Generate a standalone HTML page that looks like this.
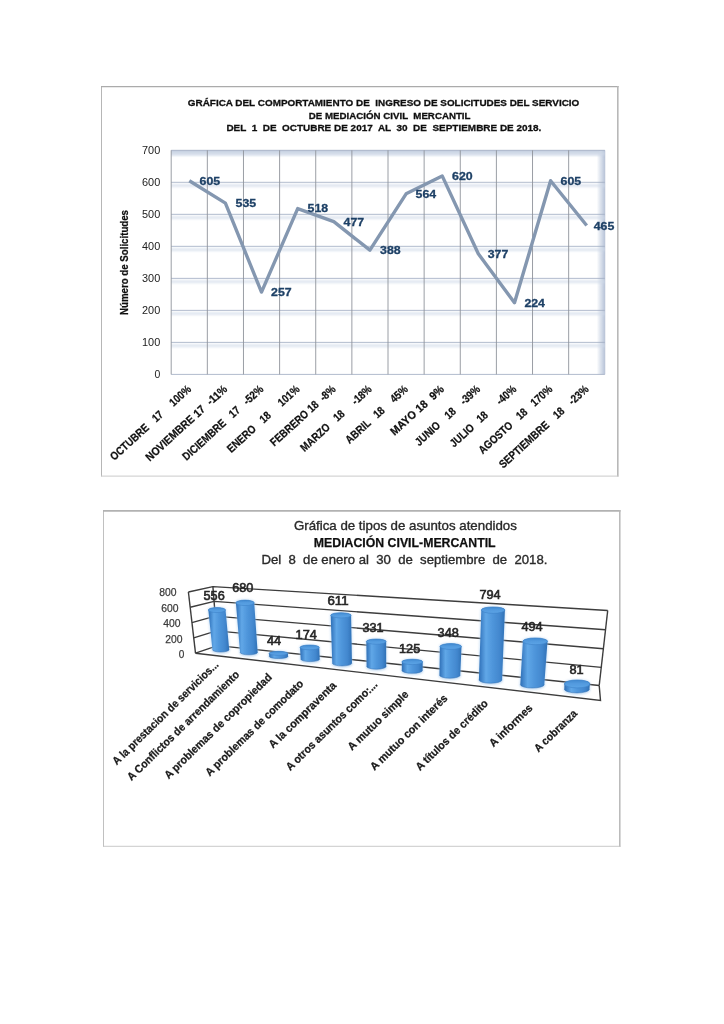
<!DOCTYPE html>
<html lang="es"><head><meta charset="utf-8"><title>Gráficas Mediación Civil Mercantil</title>
<style>html,body{margin:0;padding:0;background:#fff}svg{display:block}text{font-family:"Liberation Sans", sans-serif;white-space:pre}</style></head><body>
<svg width="724" height="1024" viewBox="0 0 724 1024">
<defs>
<linearGradient id="cyl" x1="0" x2="1" y1="0" y2="0">
<stop offset="0" stop-color="#2f70b5"/><stop offset="0.09" stop-color="#3f82c8"/><stop offset="0.27" stop-color="#60a7e7"/><stop offset="0.5" stop-color="#5097dc"/><stop offset="0.8" stop-color="#4287ce"/><stop offset="1" stop-color="#3071b6"/>
</linearGradient>
<linearGradient id="ctop" x1="0" x2="0" y1="0" y2="1"><stop offset="0" stop-color="#4088cf"/><stop offset="0.45" stop-color="#529ade"/><stop offset="1" stop-color="#5da4e6"/></linearGradient>
<linearGradient id="ptop" x1="0" x2="0" y1="0" y2="1"><stop offset="0" stop-color="#bcc8dc"/><stop offset="1" stop-color="#bcc8dc" stop-opacity="0"/></linearGradient>
<linearGradient id="pright" x1="1" x2="0" y1="0" y2="0"><stop offset="0" stop-color="#b6c2d8"/><stop offset="0.5" stop-color="#cdd6e5" stop-opacity="0.75"/><stop offset="1" stop-color="#c9d3e3" stop-opacity="0"/></linearGradient>
<filter id="soft" x="0" y="0" width="100%" height="100%" filterUnits="userSpaceOnUse"><feGaussianBlur stdDeviation="0.45"/></filter>
<filter id="b1" x="-5%" y="-300%" width="110%" height="700%"><feGaussianBlur stdDeviation="0 1.1"/></filter>
<filter id="b2" x="-20%" y="-20%" width="140%" height="140%"><feGaussianBlur stdDeviation="1.2"/></filter>
</defs>
<rect width="724" height="1024" fill="#fff"/>
<g filter="url(#soft)">
<g id="chart1">
<path d="M101.5,86 V476.4" stroke="#b6b6b6" stroke-width="1" fill="none"/><path d="M101,86.6 H618.6" stroke="#ababab" stroke-width="1.3" fill="none"/><path d="M617.8,86 V476.6" stroke="#b8b8b8" stroke-width="1.6" fill="none"/><path d="M101,476.1 H618.6" stroke="#cacaca" stroke-width="1" fill="none"/>
<rect x="171.2" y="150.3" width="433.6" height="224.1" fill="#fff"/>
<rect x="171.2" y="150.3" width="433.6" height="7" fill="url(#ptop)"/>
<rect x="596.8" y="150.3" width="8" height="224.1" fill="url(#pright)"/>
<line x1="604.8" x2="604.8" y1="150.3" y2="374.4" stroke="#b4bfd2" stroke-width="0.8"/>
<rect x="171.2" y="152.10" width="433.6" height="3" fill="#cfd9e8" filter="url(#b1)" opacity="0.65"/>
<line x1="171.2" x2="604.8" y1="150.30" y2="150.30" stroke="#a3afc4" stroke-width="0.85"/>
<rect x="171.2" y="184.11" width="433.6" height="3" fill="#cfd9e8" filter="url(#b1)" opacity="0.65"/>
<line x1="171.2" x2="604.8" y1="182.31" y2="182.31" stroke="#a3afc4" stroke-width="0.85"/>
<rect x="171.2" y="216.13" width="433.6" height="3" fill="#cfd9e8" filter="url(#b1)" opacity="0.65"/>
<line x1="171.2" x2="604.8" y1="214.33" y2="214.33" stroke="#a3afc4" stroke-width="0.85"/>
<rect x="171.2" y="248.14" width="433.6" height="3" fill="#cfd9e8" filter="url(#b1)" opacity="0.65"/>
<line x1="171.2" x2="604.8" y1="246.34" y2="246.34" stroke="#a3afc4" stroke-width="0.85"/>
<rect x="171.2" y="280.16" width="433.6" height="3" fill="#cfd9e8" filter="url(#b1)" opacity="0.65"/>
<line x1="171.2" x2="604.8" y1="278.36" y2="278.36" stroke="#a3afc4" stroke-width="0.85"/>
<rect x="171.2" y="312.17" width="433.6" height="3" fill="#cfd9e8" filter="url(#b1)" opacity="0.65"/>
<line x1="171.2" x2="604.8" y1="310.37" y2="310.37" stroke="#a3afc4" stroke-width="0.85"/>
<rect x="171.2" y="344.19" width="433.6" height="3" fill="#cfd9e8" filter="url(#b1)" opacity="0.65"/>
<line x1="171.2" x2="604.8" y1="342.39" y2="342.39" stroke="#a3afc4" stroke-width="0.85"/>
<line x1="171.2" x2="604.8" y1="374.40" y2="374.40" stroke="#a3afc4" stroke-width="0.85"/>
<line x1="171.20" x2="171.20" y1="150.3" y2="374.4" stroke="#8f939b" stroke-width="0.9"/>
<line x1="207.33" x2="207.33" y1="150.3" y2="374.4" stroke="#8f939b" stroke-width="0.9"/>
<line x1="243.47" x2="243.47" y1="150.3" y2="374.4" stroke="#8f939b" stroke-width="0.9"/>
<line x1="279.60" x2="279.60" y1="150.3" y2="374.4" stroke="#8f939b" stroke-width="0.9"/>
<line x1="315.73" x2="315.73" y1="150.3" y2="374.4" stroke="#8f939b" stroke-width="0.9"/>
<line x1="351.87" x2="351.87" y1="150.3" y2="374.4" stroke="#8f939b" stroke-width="0.9"/>
<line x1="388.00" x2="388.00" y1="150.3" y2="374.4" stroke="#8f939b" stroke-width="0.9"/>
<line x1="424.13" x2="424.13" y1="150.3" y2="374.4" stroke="#8f939b" stroke-width="0.9"/>
<line x1="460.27" x2="460.27" y1="150.3" y2="374.4" stroke="#8f939b" stroke-width="0.9"/>
<line x1="496.40" x2="496.40" y1="150.3" y2="374.4" stroke="#8f939b" stroke-width="0.9"/>
<line x1="532.53" x2="532.53" y1="150.3" y2="374.4" stroke="#8f939b" stroke-width="0.9"/>
<line x1="568.67" x2="568.67" y1="150.3" y2="374.4" stroke="#8f939b" stroke-width="0.9"/>
<text x="160.2" y="153.90" font-size="10" text-anchor="end" fill="#222" textLength="18.2" lengthAdjust="spacingAndGlyphs">700</text>
<text x="160.2" y="185.91" font-size="10" text-anchor="end" fill="#222" textLength="18.2" lengthAdjust="spacingAndGlyphs">600</text>
<text x="160.2" y="217.93" font-size="10" text-anchor="end" fill="#222" textLength="18.2" lengthAdjust="spacingAndGlyphs">500</text>
<text x="160.2" y="249.94" font-size="10" text-anchor="end" fill="#222" textLength="18.2" lengthAdjust="spacingAndGlyphs">400</text>
<text x="160.2" y="281.96" font-size="10" text-anchor="end" fill="#222" textLength="18.2" lengthAdjust="spacingAndGlyphs">300</text>
<text x="160.2" y="313.97" font-size="10" text-anchor="end" fill="#222" textLength="18.2" lengthAdjust="spacingAndGlyphs">200</text>
<text x="160.2" y="345.99" font-size="10" text-anchor="end" fill="#222" textLength="18.2" lengthAdjust="spacingAndGlyphs">100</text>
<text x="160.2" y="378.00" font-size="10" text-anchor="end" fill="#222" textLength="5.8" lengthAdjust="spacingAndGlyphs">0</text>
<text transform="translate(127.6,262.5) rotate(-90)" font-size="10" font-weight="bold" text-anchor="middle" fill="#111" stroke="#111" stroke-width="0.25" textLength="105" lengthAdjust="spacingAndGlyphs">Número de Solicitudes</text>
<text x="187.8" y="106" font-size="9.9" font-weight="bold" fill="#111" stroke="#111" stroke-width="0.3" textLength="391.5" lengthAdjust="spacingAndGlyphs">GRÁFICA DEL COMPORTAMIENTO DE  INGRESO DE SOLICITUDES DEL SERVICIO</text>
<text x="308.8" y="118.7" font-size="9.9" font-weight="bold" fill="#111" stroke="#111" stroke-width="0.3" textLength="161.7" lengthAdjust="spacingAndGlyphs">DE MEDIACIÓN CIVIL  MERCANTIL</text>
<text x="226.4" y="131.3" font-size="9.9" font-weight="bold" fill="#111" stroke="#111" stroke-width="0.3" textLength="315" lengthAdjust="spacingAndGlyphs">DEL  1  DE  OCTUBRE DE 2017  AL  30  DE  SEPTIEMBRE DE 2018.</text>
<polyline fill="none" stroke="#8497b0" stroke-width="3.4" stroke-linejoin="round" stroke-linecap="butt" points="189.3,180.7 225.4,203.1 261.5,292.1 297.7,208.6 333.8,221.7 369.9,250.2 406.1,193.8 442.2,175.9 478.3,253.7 514.5,302.7 550.6,180.7 586.7,225.5"/>
<text x="199.6" y="185.2" font-size="10.8" font-weight="bold" fill="#1f4166" stroke="#1f4166" stroke-width="0.3" textLength="20.6" lengthAdjust="spacingAndGlyphs">605</text>
<text x="235.6" y="207.2" font-size="10.8" font-weight="bold" fill="#1f4166" stroke="#1f4166" stroke-width="0.3" textLength="20.6" lengthAdjust="spacingAndGlyphs">535</text>
<text x="271.1" y="296.2" font-size="10.8" font-weight="bold" fill="#1f4166" stroke="#1f4166" stroke-width="0.3" textLength="20.6" lengthAdjust="spacingAndGlyphs">257</text>
<text x="307.6" y="212.2" font-size="10.8" font-weight="bold" fill="#1f4166" stroke="#1f4166" stroke-width="0.3" textLength="20.6" lengthAdjust="spacingAndGlyphs">518</text>
<text x="343.6" y="225.7" font-size="10.8" font-weight="bold" fill="#1f4166" stroke="#1f4166" stroke-width="0.3" textLength="20.6" lengthAdjust="spacingAndGlyphs">477</text>
<text x="380.1" y="254.2" font-size="10.8" font-weight="bold" fill="#1f4166" stroke="#1f4166" stroke-width="0.3" textLength="20.6" lengthAdjust="spacingAndGlyphs">388</text>
<text x="415.6" y="198.2" font-size="10.8" font-weight="bold" fill="#1f4166" stroke="#1f4166" stroke-width="0.3" textLength="20.6" lengthAdjust="spacingAndGlyphs">564</text>
<text x="452.1" y="180.2" font-size="10.8" font-weight="bold" fill="#1f4166" stroke="#1f4166" stroke-width="0.3" textLength="20.6" lengthAdjust="spacingAndGlyphs">620</text>
<text x="487.7" y="258.2" font-size="10.8" font-weight="bold" fill="#1f4166" stroke="#1f4166" stroke-width="0.3" textLength="20.6" lengthAdjust="spacingAndGlyphs">377</text>
<text x="524.4" y="307.2" font-size="10.8" font-weight="bold" fill="#1f4166" stroke="#1f4166" stroke-width="0.3" textLength="20.6" lengthAdjust="spacingAndGlyphs">224</text>
<text x="560.6" y="185.2" font-size="10.8" font-weight="bold" fill="#1f4166" stroke="#1f4166" stroke-width="0.3" textLength="20.6" lengthAdjust="spacingAndGlyphs">605</text>
<text x="593.7" y="229.7" font-size="10.8" font-weight="bold" fill="#1f4166" stroke="#1f4166" stroke-width="0.3" textLength="20.6" lengthAdjust="spacingAndGlyphs">465</text>
<text transform="translate(191.9,390.2) rotate(-42.4)" font-size="11.3" font-weight="bold" text-anchor="end" fill="#111" stroke="#111" stroke-width="0.25" style="word-spacing:1.82px" textLength="105" lengthAdjust="spacingAndGlyphs">OCTUBRE  17   100%</text>
<text transform="translate(228.0,390.2) rotate(-42.4)" font-size="11.3" font-weight="bold" text-anchor="end" fill="#111" stroke="#111" stroke-width="0.25" style="word-spacing:0.50px" textLength="106" lengthAdjust="spacingAndGlyphs">NOVIEMBRE 17  -11%</text>
<text transform="translate(264.1,390.2) rotate(-42.4)" font-size="11.3" font-weight="bold" text-anchor="end" fill="#111" stroke="#111" stroke-width="0.25" style="word-spacing:1.79px" textLength="105" lengthAdjust="spacingAndGlyphs">DICIEMBRE  17  -52%</text>
<text transform="translate(300.3,390.2) rotate(-42.4)" font-size="11.3" font-weight="bold" text-anchor="end" fill="#111" stroke="#111" stroke-width="0.25" style="word-spacing:2.26px" textLength="93.5" lengthAdjust="spacingAndGlyphs">ENERO  18   101%</text>
<text transform="translate(336.4,390.2) rotate(-42.4)" font-size="11.3" font-weight="bold" text-anchor="end" fill="#111" stroke="#111" stroke-width="0.25" style="word-spacing:0.13px" textLength="84" lengthAdjust="spacingAndGlyphs">FEBRERO 18  -8%</text>
<text transform="translate(372.5,390.2) rotate(-42.4)" font-size="11.3" font-weight="bold" text-anchor="end" fill="#111" stroke="#111" stroke-width="0.25" style="word-spacing:2.19px" textLength="92" lengthAdjust="spacingAndGlyphs">MARZO  18   -18%</text>
<text transform="translate(408.7,390.2) rotate(-42.4)" font-size="11.3" font-weight="bold" text-anchor="end" fill="#111" stroke="#111" stroke-width="0.25" style="word-spacing:1.56px" textLength="80" lengthAdjust="spacingAndGlyphs">ABRIL  18   45%</text>
<text transform="translate(444.8,390.2) rotate(-42.4)" font-size="11.3" font-weight="bold" text-anchor="end" fill="#111" stroke="#111" stroke-width="0.25" style="word-spacing:0.50px" textLength="68" lengthAdjust="spacingAndGlyphs">MAYO 18  9%</text>
<text transform="translate(480.9,390.2) rotate(-42.4)" font-size="11.3" font-weight="bold" text-anchor="end" fill="#111" stroke="#111" stroke-width="0.25" style="word-spacing:2.75px" textLength="83.5" lengthAdjust="spacingAndGlyphs">JUNIO  18  -39%</text>
<text transform="translate(517.1,390.2) rotate(-42.4)" font-size="11.3" font-weight="bold" text-anchor="end" fill="#111" stroke="#111" stroke-width="0.25" style="word-spacing:1.39px" textLength="85.5" lengthAdjust="spacingAndGlyphs">JULIO  18    -40%</text>
<text transform="translate(553.2,390.2) rotate(-42.4)" font-size="11.3" font-weight="bold" text-anchor="end" fill="#111" stroke="#111" stroke-width="0.25" style="word-spacing:2.05px" textLength="95.5" lengthAdjust="spacingAndGlyphs">AGOSTO  18  170%</text>
<text transform="translate(589.3,390.2) rotate(-42.4)" font-size="11.3" font-weight="bold" text-anchor="end" fill="#111" stroke="#111" stroke-width="0.25" style="word-spacing:2.62px" textLength="116.5" lengthAdjust="spacingAndGlyphs">SEPTIEMBRE  18  -23%</text>
</g>
<g id="chart2">
<path d="M103.5,510 V846.7" stroke="#c0c0c0" stroke-width="1" fill="none"/><path d="M103,510.9 H620.5" stroke="#b2b2b2" stroke-width="1.6" fill="none"/><path d="M619.8,510 V846.8" stroke="#b8b8b8" stroke-width="1.5" fill="none"/><path d="M103,846.3 H620.5" stroke="#c4c4c4" stroke-width="0.9" fill="none"/>
<text x="293.9" y="529.9" font-size="12.6" fill="#2a2a2a" stroke="#2a2a2a" stroke-width="0.35" textLength="223" lengthAdjust="spacingAndGlyphs">Gráfica de tipos de asuntos atendidos</text>
<text x="313.8" y="547.1" font-size="12.6" font-weight="bold" fill="#111" stroke="#111" stroke-width="0.25" textLength="181.8" lengthAdjust="spacingAndGlyphs">MEDIACIÓN CIVIL-MERCANTIL</text>
<text x="261.4" y="564.4" font-size="12.6" fill="#2a2a2a" stroke="#2a2a2a" stroke-width="0.35" textLength="286" lengthAdjust="spacingAndGlyphs">Del  8  de enero al  30  de  septiembre  de  2018.</text>
<polyline fill="none" stroke="#3c3c3c" stroke-width="1.4" stroke-linejoin="round" points="188.4,592.0 212.9,586.6 607.7,610.5"/>
<polyline fill="none" stroke="#3c3c3c" stroke-width="1.4" stroke-linejoin="round" points="190.2,607.3 214.1,601.4 605.6,629.8"/>
<polyline fill="none" stroke="#3c3c3c" stroke-width="1.4" stroke-linejoin="round" points="191.9,622.6 215.2,616.1 603.5,648.8"/>
<polyline fill="none" stroke="#3c3c3c" stroke-width="1.4" stroke-linejoin="round" points="193.7,637.9 216.4,630.9 601.4,667.4"/>
<polyline fill="none" stroke="#3c3c3c" stroke-width="1.4" stroke-linejoin="round" points="195.5,653.2 217.6,645.6 599.2,685.5"/>
<line x1="188.4" y1="592" x2="195.5" y2="653.2" stroke="#3c3c3c" stroke-width="1.4"/>
<line x1="212.9" y1="586.6" x2="217.6" y2="645.6" stroke="#3c3c3c" stroke-width="1.4"/>
<line x1="607.7" y1="610.5" x2="599.2" y2="685.5" stroke="#3c3c3c" stroke-width="1.4"/>
<polyline fill="none" stroke="#3c3c3c" stroke-width="1.4" points="195.5,653.2 600.5,700.4 599.2,685.5"/>
<text x="176.60" y="596.15" font-size="11.4" text-anchor="end" fill="#3a3a3a" stroke="#3a3a3a" stroke-width="0.25" textLength="17.3" lengthAdjust="spacingAndGlyphs">800</text>
<text x="178.55" y="611.60" font-size="11.4" text-anchor="end" fill="#3a3a3a" stroke="#3a3a3a" stroke-width="0.25" textLength="17.3" lengthAdjust="spacingAndGlyphs">600</text>
<text x="180.50" y="627.05" font-size="11.4" text-anchor="end" fill="#3a3a3a" stroke="#3a3a3a" stroke-width="0.25" textLength="17.3" lengthAdjust="spacingAndGlyphs">400</text>
<text x="182.45" y="642.50" font-size="11.4" text-anchor="end" fill="#3a3a3a" stroke="#3a3a3a" stroke-width="0.25" textLength="17.3" lengthAdjust="spacingAndGlyphs">200</text>
<text x="184.40" y="657.95" font-size="11.4" text-anchor="end" fill="#3a3a3a" stroke="#3a3a3a" stroke-width="0.25" textLength="5.6" lengthAdjust="spacingAndGlyphs">0</text>
<ellipse cx="220.8" cy="650.8" rx="8.9" ry="3.2" fill="#bcd6ef" filter="url(#b2)" opacity="0.55"/>
<path d="M208.35,610.00 L212.40,649.60 A8.40,2.40 0 0 0 229.20,649.60 L225.55,610.00 A8.60,2.50 0 0 0 208.35,610.00 Z" fill="#a9cdf0" stroke="#a9cdf0" stroke-width="1.5" filter="url(#b2)" opacity="0.55"/>
<path d="M208.35,610.00 L212.40,649.60 A8.40,2.40 0 0 0 229.20,649.60 L225.55,610.00 A8.60,2.50 0 0 0 208.35,610.00 Z" fill="url(#cyl)"/>
<path d="M212.40,649.60 A8.40,2.40 0 0 0 229.20,649.60" fill="none" stroke="#2f6db0" stroke-width="0.9" opacity="0.55"/>
<ellipse cx="216.95" cy="610" rx="8.6" ry="2.5" fill="url(#ctop)" stroke="#3d81c7" stroke-width="0.6"/>
<ellipse cx="248.85" cy="653.4" rx="9.3" ry="3.4" fill="#bcd6ef" filter="url(#b2)" opacity="0.55"/>
<path d="M235.90,602.80 L240.05,652.20 A8.80,2.60 0 0 0 257.65,652.20 L254.20,602.80 A9.15,2.70 0 0 0 235.90,602.80 Z" fill="#a9cdf0" stroke="#a9cdf0" stroke-width="1.5" filter="url(#b2)" opacity="0.55"/>
<path d="M235.90,602.80 L240.05,652.20 A8.80,2.60 0 0 0 257.65,652.20 L254.20,602.80 A9.15,2.70 0 0 0 235.90,602.80 Z" fill="url(#cyl)"/>
<path d="M240.05,652.20 A8.80,2.60 0 0 0 257.65,652.20" fill="none" stroke="#2f6db0" stroke-width="0.9" opacity="0.55"/>
<ellipse cx="245.05" cy="602.8" rx="9.15" ry="2.7" fill="url(#ctop)" stroke="#3d81c7" stroke-width="0.6"/>
<ellipse cx="278.6" cy="657.6" rx="9.9" ry="2.9" fill="#bcd6ef" filter="url(#b2)" opacity="0.55"/>
<path d="M269.00,653.30 L269.20,656.40 A9.40,2.10 0 0 0 288.00,656.40 L287.90,653.30 A9.45,2.00 0 0 0 269.00,653.30 Z" fill="#a9cdf0" stroke="#a9cdf0" stroke-width="1.5" filter="url(#b2)" opacity="0.55"/>
<path d="M269.00,653.30 L269.20,656.40 A9.40,2.10 0 0 0 288.00,656.40 L287.90,653.30 A9.45,2.00 0 0 0 269.00,653.30 Z" fill="url(#cyl)"/>
<path d="M269.20,656.40 A9.40,2.10 0 0 0 288.00,656.40" fill="none" stroke="#2f6db0" stroke-width="0.9" opacity="0.55"/>
<ellipse cx="278.45" cy="653.3" rx="9.45" ry="2" fill="url(#ctop)" stroke="#3d81c7" stroke-width="0.6"/>
<ellipse cx="310.2" cy="660.2" rx="10" ry="3.4" fill="#bcd6ef" filter="url(#b2)" opacity="0.55"/>
<path d="M300.05,647.40 L300.70,659.00 A9.50,2.60 0 0 0 319.70,659.00 L319.25,647.40 A9.60,2.40 0 0 0 300.05,647.40 Z" fill="#a9cdf0" stroke="#a9cdf0" stroke-width="1.5" filter="url(#b2)" opacity="0.55"/>
<path d="M300.05,647.40 L300.70,659.00 A9.50,2.60 0 0 0 319.70,659.00 L319.25,647.40 A9.60,2.40 0 0 0 300.05,647.40 Z" fill="url(#cyl)"/>
<path d="M300.70,659.00 A9.50,2.60 0 0 0 319.70,659.00" fill="none" stroke="#2f6db0" stroke-width="0.9" opacity="0.55"/>
<ellipse cx="309.65" cy="647.4" rx="9.6" ry="2.4" fill="url(#ctop)" stroke="#3d81c7" stroke-width="0.6"/>
<ellipse cx="342.1" cy="664.3" rx="10.35" ry="3.6" fill="#bcd6ef" filter="url(#b2)" opacity="0.55"/>
<path d="M330.70,615.30 L332.25,663.10 A9.85,2.80 0 0 0 351.95,663.10 L351.10,615.30 A10.20,2.60 0 0 0 330.70,615.30 Z" fill="#a9cdf0" stroke="#a9cdf0" stroke-width="1.5" filter="url(#b2)" opacity="0.55"/>
<path d="M330.70,615.30 L332.25,663.10 A9.85,2.80 0 0 0 351.95,663.10 L351.10,615.30 A10.20,2.60 0 0 0 330.70,615.30 Z" fill="url(#cyl)"/>
<path d="M332.25,663.10 A9.85,2.80 0 0 0 351.95,663.10" fill="none" stroke="#2f6db0" stroke-width="0.9" opacity="0.55"/>
<ellipse cx="340.9" cy="615.3" rx="10.2" ry="2.6" fill="url(#ctop)" stroke="#3d81c7" stroke-width="0.6"/>
<ellipse cx="376.4" cy="667.4" rx="10.3" ry="3.8" fill="#bcd6ef" filter="url(#b2)" opacity="0.55"/>
<path d="M366.35,641.60 L366.60,666.20 A9.80,3.00 0 0 0 386.20,666.20 L386.15,641.60 A9.90,2.60 0 0 0 366.35,641.60 Z" fill="#a9cdf0" stroke="#a9cdf0" stroke-width="1.5" filter="url(#b2)" opacity="0.55"/>
<path d="M366.35,641.60 L366.60,666.20 A9.80,3.00 0 0 0 386.20,666.20 L386.15,641.60 A9.90,2.60 0 0 0 366.35,641.60 Z" fill="url(#cyl)"/>
<path d="M366.60,666.20 A9.80,3.00 0 0 0 386.20,666.20" fill="none" stroke="#2f6db0" stroke-width="0.9" opacity="0.55"/>
<ellipse cx="376.25" cy="641.6" rx="9.9" ry="2.6" fill="url(#ctop)" stroke="#3d81c7" stroke-width="0.6"/>
<ellipse cx="412.2" cy="671.5" rx="10.9" ry="3.8" fill="#bcd6ef" filter="url(#b2)" opacity="0.55"/>
<path d="M401.90,661.90 L401.80,670.30 A10.40,3.00 0 0 0 422.60,670.30 L422.70,661.90 A10.40,2.70 0 0 0 401.90,661.90 Z" fill="#a9cdf0" stroke="#a9cdf0" stroke-width="1.5" filter="url(#b2)" opacity="0.55"/>
<path d="M401.90,661.90 L401.80,670.30 A10.40,3.00 0 0 0 422.60,670.30 L422.70,661.90 A10.40,2.70 0 0 0 401.90,661.90 Z" fill="url(#cyl)"/>
<path d="M401.80,670.30 A10.40,3.00 0 0 0 422.60,670.30" fill="none" stroke="#2f6db0" stroke-width="0.9" opacity="0.55"/>
<ellipse cx="412.3" cy="661.9" rx="10.4" ry="2.7" fill="url(#ctop)" stroke="#3d81c7" stroke-width="0.6"/>
<ellipse cx="449.85" cy="676.2" rx="10.9" ry="4" fill="#bcd6ef" filter="url(#b2)" opacity="0.55"/>
<path d="M439.90,646.50 L439.45,675.00 A10.40,3.20 0 0 0 460.25,675.00 L461.50,646.50 A10.80,2.90 0 0 0 439.90,646.50 Z" fill="#a9cdf0" stroke="#a9cdf0" stroke-width="1.5" filter="url(#b2)" opacity="0.55"/>
<path d="M439.90,646.50 L439.45,675.00 A10.40,3.20 0 0 0 460.25,675.00 L461.50,646.50 A10.80,2.90 0 0 0 439.90,646.50 Z" fill="url(#cyl)"/>
<path d="M439.45,675.00 A10.40,3.20 0 0 0 460.25,675.00" fill="none" stroke="#2f6db0" stroke-width="0.9" opacity="0.55"/>
<ellipse cx="450.7" cy="646.5" rx="10.8" ry="2.9" fill="url(#ctop)" stroke="#3d81c7" stroke-width="0.6"/>
<ellipse cx="490.5" cy="681" rx="12.1" ry="4.2" fill="#bcd6ef" filter="url(#b2)" opacity="0.55"/>
<path d="M481.30,610.10 L478.90,679.80 A11.60,3.40 0 0 0 502.10,679.80 L504.90,610.10 A11.80,3.20 0 0 0 481.30,610.10 Z" fill="#a9cdf0" stroke="#a9cdf0" stroke-width="1.5" filter="url(#b2)" opacity="0.55"/>
<path d="M481.30,610.10 L478.90,679.80 A11.60,3.40 0 0 0 502.10,679.80 L504.90,610.10 A11.80,3.20 0 0 0 481.30,610.10 Z" fill="url(#cyl)"/>
<path d="M478.90,679.80 A11.60,3.40 0 0 0 502.10,679.80" fill="none" stroke="#2f6db0" stroke-width="0.9" opacity="0.55"/>
<ellipse cx="493.1" cy="610.1" rx="11.8" ry="3.2" fill="url(#ctop)" stroke="#3d81c7" stroke-width="0.6"/>
<ellipse cx="532.3" cy="685.6" rx="12.5" ry="4.4" fill="#bcd6ef" filter="url(#b2)" opacity="0.55"/>
<path d="M522.90,641.30 L520.30,684.40 A12.00,3.60 0 0 0 544.30,684.40 L547.50,641.30 A12.30,3.40 0 0 0 522.90,641.30 Z" fill="#a9cdf0" stroke="#a9cdf0" stroke-width="1.5" filter="url(#b2)" opacity="0.55"/>
<path d="M522.90,641.30 L520.30,684.40 A12.00,3.60 0 0 0 544.30,684.40 L547.50,641.30 A12.30,3.40 0 0 0 522.90,641.30 Z" fill="url(#cyl)"/>
<path d="M520.30,684.40 A12.00,3.60 0 0 0 544.30,684.40" fill="none" stroke="#2f6db0" stroke-width="0.9" opacity="0.55"/>
<ellipse cx="535.2" cy="641.3" rx="12.3" ry="3.4" fill="url(#ctop)" stroke="#3d81c7" stroke-width="0.6"/>
<ellipse cx="576.9" cy="690.2" rx="13.1" ry="4.7" fill="#bcd6ef" filter="url(#b2)" opacity="0.55"/>
<path d="M564.45,683.90 L564.30,689.00 A12.60,3.90 0 0 0 589.50,689.00 L589.85,683.90 A12.70,4.00 0 0 0 564.45,683.90 Z" fill="#a9cdf0" stroke="#a9cdf0" stroke-width="1.5" filter="url(#b2)" opacity="0.55"/>
<path d="M564.45,683.90 L564.30,689.00 A12.60,3.90 0 0 0 589.50,689.00 L589.85,683.90 A12.70,4.00 0 0 0 564.45,683.90 Z" fill="url(#cyl)"/>
<path d="M564.30,689.00 A12.60,3.90 0 0 0 589.50,689.00" fill="none" stroke="#2f6db0" stroke-width="0.9" opacity="0.55"/>
<ellipse cx="577.15" cy="683.9" rx="12.7" ry="4" fill="url(#ctop)" stroke="#3d81c7" stroke-width="0.6"/>
<text x="203.5" y="599.6" font-size="12.6" fill="#262626" stroke="#262626" stroke-width="0.6" textLength="21.2" lengthAdjust="spacingAndGlyphs">556</text>
<text x="232.2" y="592.4" font-size="12.6" fill="#262626" stroke="#262626" stroke-width="0.6" textLength="21.2" lengthAdjust="spacingAndGlyphs">680</text>
<text x="266.9" y="644.6" font-size="12.6" fill="#262626" stroke="#262626" stroke-width="0.6" textLength="14.2" lengthAdjust="spacingAndGlyphs">44</text>
<text x="295.6" y="639" font-size="12.6" fill="#262626" stroke="#262626" stroke-width="0.6" textLength="21.2" lengthAdjust="spacingAndGlyphs">174</text>
<text x="327.4" y="604.9" font-size="12.6" fill="#262626" stroke="#262626" stroke-width="0.6" textLength="21.2" lengthAdjust="spacingAndGlyphs">611</text>
<text x="362.4" y="632" font-size="12.6" fill="#262626" stroke="#262626" stroke-width="0.6" textLength="21.2" lengthAdjust="spacingAndGlyphs">331</text>
<text x="399" y="653.2" font-size="12.6" fill="#262626" stroke="#262626" stroke-width="0.6" textLength="21.2" lengthAdjust="spacingAndGlyphs">125</text>
<text x="437.6" y="636.7" font-size="12.6" fill="#262626" stroke="#262626" stroke-width="0.6" textLength="21.2" lengthAdjust="spacingAndGlyphs">348</text>
<text x="479.4" y="599.3" font-size="12.6" fill="#262626" stroke="#262626" stroke-width="0.6" textLength="21.2" lengthAdjust="spacingAndGlyphs">794</text>
<text x="521.4" y="631.4" font-size="12.6" fill="#262626" stroke="#262626" stroke-width="0.6" textLength="21.2" lengthAdjust="spacingAndGlyphs">494</text>
<text x="569.4" y="674.2" font-size="12.6" fill="#262626" stroke="#262626" stroke-width="0.6" textLength="14.2" lengthAdjust="spacingAndGlyphs">81</text>
<text transform="translate(219.2,665.6) rotate(-44.3)" font-size="11.2" font-weight="bold" text-anchor="end" fill="#1a1a1a" stroke="#1a1a1a" stroke-width="0.25" textLength="143" lengthAdjust="spacingAndGlyphs">A la prestacion de servicios...</text>
<text transform="translate(240,675.4) rotate(-44.3)" font-size="11.2" font-weight="bold" text-anchor="end" fill="#1a1a1a" stroke="#1a1a1a" stroke-width="0.25" textLength="151.5" lengthAdjust="spacingAndGlyphs">A Conflictos de arrendamiento</text>
<text transform="translate(272.7,678) rotate(-44.3)" font-size="11.2" font-weight="bold" text-anchor="end" fill="#1a1a1a" stroke="#1a1a1a" stroke-width="0.25" textLength="145.4" lengthAdjust="spacingAndGlyphs">A problemas de copropiedad</text>
<text transform="translate(304.1,684.5) rotate(-44.3)" font-size="11.2" font-weight="bold" text-anchor="end" fill="#1a1a1a" stroke="#1a1a1a" stroke-width="0.25" textLength="132" lengthAdjust="spacingAndGlyphs">A problemas de comodato</text>
<text transform="translate(337,686.3) rotate(-44.3)" font-size="11.2" font-weight="bold" text-anchor="end" fill="#1a1a1a" stroke="#1a1a1a" stroke-width="0.25" textLength="89.5" lengthAdjust="spacingAndGlyphs">A la compraventa</text>
<text transform="translate(378.2,685.3) rotate(-44.3)" font-size="11.2" font-weight="bold" text-anchor="end" fill="#1a1a1a" stroke="#1a1a1a" stroke-width="0.25" textLength="123" lengthAdjust="spacingAndGlyphs">A otros asuntos como:...</text>
<text transform="translate(409.3,695.2) rotate(-44.3)" font-size="11.2" font-weight="bold" text-anchor="end" fill="#1a1a1a" stroke="#1a1a1a" stroke-width="0.25" textLength="80" lengthAdjust="spacingAndGlyphs">A mutuo simple</text>
<text transform="translate(448.3,699) rotate(-44.3)" font-size="11.2" font-weight="bold" text-anchor="end" fill="#1a1a1a" stroke="#1a1a1a" stroke-width="0.25" textLength="103" lengthAdjust="spacingAndGlyphs">A mutuo con interés</text>
<text transform="translate(488.7,704.2) rotate(-44.3)" font-size="11.2" font-weight="bold" text-anchor="end" fill="#1a1a1a" stroke="#1a1a1a" stroke-width="0.25" textLength="96" lengthAdjust="spacingAndGlyphs">A títulos de crédito</text>
<text transform="translate(533.2,708.8) rotate(-44.3)" font-size="11.2" font-weight="bold" text-anchor="end" fill="#1a1a1a" stroke="#1a1a1a" stroke-width="0.25" textLength="55.5" lengthAdjust="spacingAndGlyphs">A informes</text>
<text transform="translate(577.9,714.3) rotate(-44.3)" font-size="11.2" font-weight="bold" text-anchor="end" fill="#1a1a1a" stroke="#1a1a1a" stroke-width="0.25" textLength="55" lengthAdjust="spacingAndGlyphs">A cobranza</text>
</g>
</g>
</svg></body></html>
